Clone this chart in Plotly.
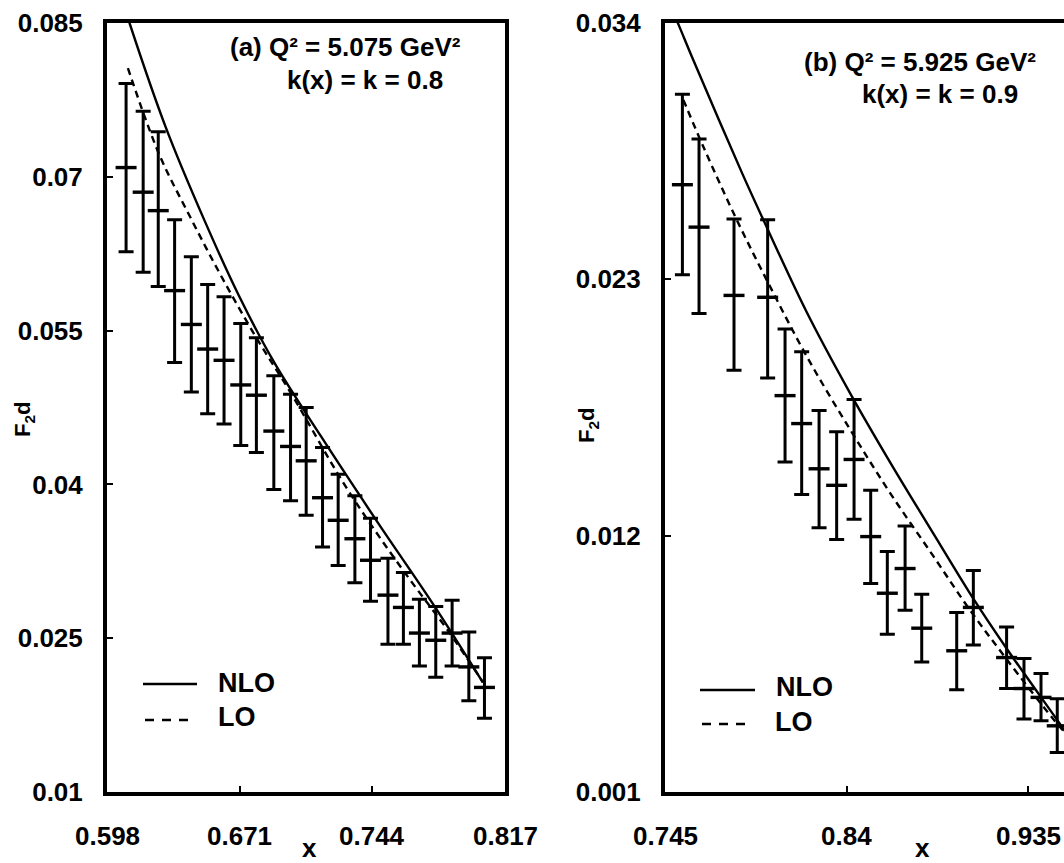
import plotly.graph_objects as go

# ---------------- panel (a): Q^2 = 5.075 GeV^2, k = 0.8 ----------------
x_a = [0.6085, 0.6179, 0.6262, 0.6352, 0.6444, 0.6534, 0.6624, 0.6716, 0.6802,
       0.6898, 0.6990, 0.7076, 0.7166, 0.7252, 0.7344, 0.7430, 0.7526, 0.7611,
       0.7699, 0.7789, 0.7879, 0.7971, 0.8057]
f2_a = [0.0709, 0.0685, 0.0667, 0.0589, 0.0556, 0.0532, 0.0521, 0.0497, 0.0487,
        0.0452, 0.0437, 0.0423, 0.0387, 0.0365, 0.0347, 0.0326, 0.0292, 0.0280,
        0.0255, 0.0248, 0.0255, 0.0222, 0.0202]
f2_a_hi = [0.0791, 0.0764, 0.0744, 0.0658, 0.0622, 0.0595, 0.0583, 0.0557, 0.0543,
           0.0506, 0.0488, 0.0475, 0.0436, 0.0410, 0.0389, 0.0367, 0.0328, 0.0314,
           0.0288, 0.0281, 0.0287, 0.0256, 0.0231]
f2_a_lo = [0.0627, 0.0607, 0.0593, 0.0519, 0.0490, 0.0469, 0.0459, 0.0438, 0.0431,
           0.0395, 0.0384, 0.0370, 0.0339, 0.0321, 0.0304, 0.0286, 0.0244, 0.0244,
           0.0223, 0.0212, 0.0223, 0.0189, 0.0172]

nlo_a_x = [0.6090, 0.6104, 0.6304, 0.6515, 0.6706, 0.6900, 0.7157, 0.7473, 0.7779, 0.8048]
nlo_a_y = [0.0858, 0.0850, 0.0748, 0.0658, 0.0584, 0.0519, 0.0447, 0.0362, 0.0282, 0.0207]
lo_a_x = [0.6095, 0.6267, 0.6440, 0.6612, 0.6802, 0.6992, 0.7279, 0.7474, 0.7664, 0.7854, 0.8049]
lo_a_y = [0.0806, 0.0722, 0.0660, 0.0602, 0.0543, 0.0489, 0.0402, 0.0350, 0.0303, 0.0258, 0.0207]

x_ticks_a = [0.598, 0.671, 0.744, 0.817]
x_labels_a = ["0.598", "0.671", "0.744", "0.817"]
y_ticks_a = [0.01, 0.025, 0.04, 0.055, 0.07, 0.085]
y_labels_a = ["0.01", "0.025", "0.04", "0.055", "0.07", "0.085"]

# ---------------- panel (b): Q^2 = 5.925 GeV^2, k = 0.9 ----------------
x_b = [0.7541, 0.7628, 0.7811, 0.7987, 0.8078, 0.8165, 0.8256, 0.8348, 0.8439,
       0.8526, 0.8613, 0.8706, 0.8793, 0.8976, 0.9063, 0.9237, 0.9328, 0.9417, 0.9502]
f2_b = [0.02706, 0.02524, 0.02231, 0.02223, 0.01801, 0.01681, 0.01487, 0.01416, 0.01527,
        0.01196, 0.00953, 0.01059, 0.00803, 0.00706, 0.00892, 0.00677, 0.00544, 0.00506, 0.00384]
f2_b_hi = [0.03094, 0.02902, 0.02559, 0.02556, 0.02087, 0.01989, 0.01737, 0.01646, 0.01784,
           0.01395, 0.01132, 0.01241, 0.00949, 0.00870, 0.01051, 0.00808, 0.00673, 0.00609, 0.00500]
f2_b_lo = [0.02320, 0.02153, 0.01910, 0.01877, 0.01516, 0.01377, 0.01234, 0.01184, 0.01270,
           0.00995, 0.00777, 0.00880, 0.00658, 0.00539, 0.00731, 0.00544, 0.00413, 0.00406, 0.00270]

nlo_b_x = [0.7466, 0.7528, 0.7598, 0.7851, 0.7982, 0.8191, 0.8418, 0.8627, 0.8889, 0.9063, 0.9237, 0.9499, 0.9569]
nlo_b_y = [0.0350, 0.03379, 0.03241, 0.02760, 0.02524, 0.02160, 0.01812, 0.01516, 0.01162, 0.00930, 0.00716, 0.00412, 0.00330]
lo_b_x = [0.7546, 0.7650, 0.7825, 0.7999, 0.8191, 0.8418, 0.8627, 0.8853, 0.9046, 0.9237, 0.9481, 0.9569]
lo_b_y = [0.0307, 0.0287, 0.02556, 0.0227, 0.0197, 0.01656, 0.01384, 0.01113, 0.00880, 0.00670, 0.00413, 0.00330]

x_ticks_b = [0.745, 0.84, 0.935]
x_labels_b = ["0.745", "0.84", "0.935"]
y_ticks_b = [0.001, 0.012, 0.023, 0.034]
y_labels_b = ["0.001", "0.012", "0.023", "0.034"]

# ---------------- page geometry (pixels) ----------------
W, H = 1064, 863
L, T = 107, 23           # left/top edge of the plotting area
PW, PH = W - L, 769      # plotting-area width / height
A_RIGHT = 505            # right frame of panel (a)
B_LEFT = 665             # left frame of panel (b)
B_SPAN = 0.745 + (W - B_LEFT) * 0.095 / 181.6   # x value at the page edge

FONT = "Liberation Sans, Arial, Helvetica, sans-serif"


def fx(xpix):
    return (xpix - L) / PW


def fy(ypix):
    return (T + PH - ypix) / PH


def data_points(x, y, hi, lo, xa, ya):
    return go.Scatter(
        x=x, y=y, mode="markers", xaxis=xa, yaxis=ya, showlegend=False,
        marker=dict(symbol="line-ew", size=15, color="black",
                    line=dict(width=3.4, color="black")),
        error_y=dict(type="data", symmetric=False,
                     array=[h - v for h, v in zip(hi, y)],
                     arrayminus=[v - l for v, l in zip(y, lo)],
                     color="black", thickness=3, width=7.5),
    )


def curve(x, y, xa, ya, dash):
    return go.Scatter(
        x=x, y=y, mode="lines", xaxis=xa, yaxis=ya, showlegend=False,
        line=dict(color="black", width=2.4, dash=dash, shape="spline", smoothing=1.0),
    )


fig = go.Figure()
fig.add_trace(curve(nlo_a_x, nlo_a_y, "x", "y", "solid"))
fig.add_trace(curve(lo_a_x, lo_a_y, "x", "y", "7px,5px"))
fig.add_trace(data_points(x_a, f2_a, f2_a_hi, f2_a_lo, "x", "y"))
fig.add_trace(curve(nlo_b_x, nlo_b_y, "x2", "y2", "solid"))
fig.add_trace(curve(lo_b_x, lo_b_y, "x2", "y2", "7px,5px"))
fig.add_trace(data_points(x_b, f2_b, f2_b_hi, f2_b_lo, "x2", "y2"))

tickfont = dict(family=FONT, size=26, color="black", weight="bold")
axis_common = dict(showline=True, linecolor="black", linewidth=4,
                   ticks="inside", ticklen=6, tickwidth=1.5, tickcolor="black",
                   showgrid=False, zeroline=False, tickfont=tickfont,
                   tickmode="array", fixedrange=True)

fig.update_layout(
    width=W, height=H, autosize=False,
    margin=dict(l=L, r=0, t=T, b=H - T - PH, pad=0),
    paper_bgcolor="white", plot_bgcolor="white",
    showlegend=False,
    xaxis=dict(domain=[0, fx(A_RIGHT)], range=[0.598, 0.817], anchor="y",
               tickvals=x_ticks_a, ticktext=x_labels_a, mirror=True,
               showticklabels=False, **axis_common),
    yaxis=dict(domain=[0, 1], range=[0.01, 0.085], anchor="x",
               tickvals=y_ticks_a, ticktext=y_labels_a, mirror=True,
               ticklabelstandoff=15, **axis_common),
    xaxis2=dict(domain=[fx(B_LEFT), 1], range=[0.745, B_SPAN], anchor="y2",
                tickvals=x_ticks_b, ticktext=x_labels_b, mirror=True,
                showticklabels=False, **axis_common),
    yaxis2=dict(domain=[0, 1], range=[0.001, 0.034], anchor="x2",
                tickvals=y_ticks_b, ticktext=y_labels_b, mirror=False,
                ticklabelstandoff=15, **axis_common),
)

# x tick labels, placed on each axis's own scale
for ref, vals, labels in [("x", x_ticks_a, x_labels_a), ("x2", x_ticks_b, x_labels_b)]:
    for v, lab in zip(vals, labels):
        fig.add_annotation(xref=ref, yref="paper", x=v, y=fy(836), text=lab,
                           showarrow=False, xanchor="center", yanchor="middle",
                           font=tickfont)

txt = dict(family=FONT, size=26, color="black", weight="bold")
legend_txt = dict(family=FONT, size=27, color="black", weight="bold")
notes = [
    # panel headings
    dict(text="(a) Q² = 5.075 GeV²", x=fx(345), y=fy(47), xanchor="center", font=txt),
    dict(text="k(x) = k = 0.8", x=fx(365), y=fy(80), xanchor="center", font=txt),
    dict(text="(b) Q² = 5.925 GeV²", x=fx(920), y=fy(62), xanchor="center", font=txt),
    dict(text="k(x) = k = 0.9", x=fx(940), y=fy(94), xanchor="center", font=txt),
    # legend labels
    dict(text="NLO", x=fx(216), y=fy(683), xanchor="left", font=legend_txt),
    dict(text="LO", x=fx(216), y=fy(717), xanchor="left", font=legend_txt),
    dict(text="NLO", x=fx(774), y=fy(687), xanchor="left", font=legend_txt),
    dict(text="LO", x=fx(773), y=fy(722), xanchor="left", font=legend_txt),
    # axis titles
    dict(text="x", x=fx(309), y=fy(848), xanchor="center", font=txt),
    dict(text="x", x=fx(922), y=fy(848), xanchor="center", font=txt),
]
for n in notes:
    fig.add_annotation(xref="paper", yref="paper", yanchor="middle",
                       showarrow=False, **n)

for xc, yc in [(24, 420), (588, 426)]:
    fig.add_annotation(xref="paper", yref="paper", x=fx(xc), y=fy(yc),
                       text="F<sub>2</sub>d", textangle=-90, showarrow=False,
                       xanchor="center", yanchor="middle",
                       font=dict(family=FONT, size=22, color="black", weight="bold"))

# legend keys
keys = [
    (143, 197, 684, "solid"), (145, 190, 720, "9px,8px"),
    (700, 755, 690, "solid"), (702, 748, 724, "9px,8px"),
]
for x0, x1, yk, dash in keys:
    fig.add_shape(type="line", xref="paper", yref="paper",
                  x0=fx(x0), x1=fx(x1), y0=fy(yk), y1=fy(yk),
                  line=dict(color="black", width=2.4, dash=dash))

# keep the page exactly the size of the figure, with no scrollbars
page_js = """
var gd = document.getElementById('{plot_id}');
document.documentElement.style.margin = '0';
document.documentElement.style.overflow = 'hidden';
document.body.style.margin = '0';
document.body.style.overflow = 'hidden';
gd.style.width = '%dpx';
gd.style.height = '%dpx';
Plotly.relayout(gd, {width: %d, height: %d, autosize: false});
""" % (W, H, W, H)
fig.write_html("out.html", config={"responsive": False}, post_script=page_js)
